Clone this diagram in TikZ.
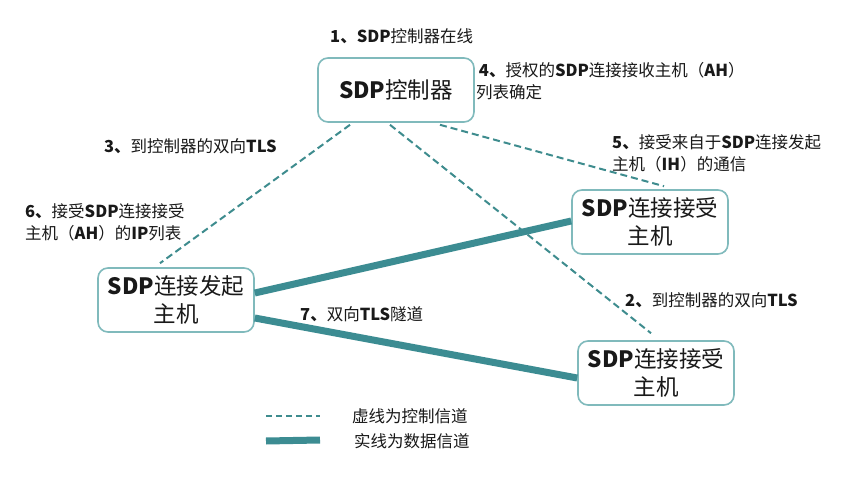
\documentclass[tikz,border=0pt]{standalone}
\usepackage{fontspec}
\setmainfont{Noto Sans CJK SC}
\usetikzlibrary{calc}
\definecolor{boxc}{RGB}{128,186,188}
\definecolor{linec}{RGB}{60,140,146}
\definecolor{dashc}{RGB}{62,140,142}
\definecolor{txt}{RGB}{25,25,25}
\tikzset{
  hostbox/.style={draw=boxc, line width=1.6pt, rounded corners=10pt, fill=white,
    minimum width=156pt, minimum height=64pt, align=center, font=\fontsize{22.5}{28}\selectfont, text=txt, inner sep=2pt},
  lbl/.style={font=\fontsize{16.5}{22}\selectfont, text=txt, align=left, inner sep=0pt},
  ctl/.style={draw=dashc, line width=2pt, dash pattern=on 7pt off 4pt},
  dat/.style={draw=linec, line width=7pt},
}
\begin{document}
\begin{tikzpicture}[x=1pt,y=-1pt]
\useasboundingbox[fill=white] (0,0) rectangle (868,489);
% boxes
\node[hostbox] (ctrl) at (396,90) {\textbf{SDP}控制器};
\node[hostbox] (ah1) at (650,222) {\textbf{SDP}连接接受\\主机};
\node[hostbox] (ah2) at (656,373) {\textbf{SDP}连接接受\\主机};
\node[hostbox] (ih) at (176,300) {\textbf{SDP}连接发起\\主机};
% control channels
\draw[ctl] ([xshift=-46pt,yshift=-2pt]ctrl.south) -- ([xshift=-16pt,yshift=4pt]ih.north);
\draw[ctl] ([xshift=-6pt,yshift=-2pt]ctrl.south) -- ([xshift=-5pt,yshift=7pt]ah2.north);
\draw[ctl] ([xshift=44pt,yshift=-2pt]ctrl.south) -- ([xshift=14pt,yshift=3pt]ah1.north);
% data channels
\draw[dat] ([yshift=7pt]ih.east) -- ([yshift=1pt]ah1.west);
\draw[dat] ([yshift=-18pt]ih.east) -- ([yshift=-5pt]ah2.west);
% labels
\node[lbl, anchor=west] (l1) at (330,36) {\textbf{1、SDP}控制器在线};
\node[lbl, anchor=north west] (l4) at (476,62) {\,\textbf{4、}授权的\textbf{SDP}连接接收主机（\textbf{AH}）\\列表确定};
\node[lbl, anchor=west] (l3) at (104,146) {\textbf{3、}到控制器的双向\textbf{TLS}};
\node[lbl, anchor=north west] (l5) at (612,134) {\textbf{5、}接受来自于\textbf{SDP}连接发起\\主机（\textbf{IH}）的通信};
\node[lbl, anchor=north west] (l6) at (25,203) {\textbf{6、}接受\textbf{SDP}连接接受\\主机（\textbf{AH}）的\textbf{IP}列表};
\node[lbl, anchor=west] (l7) at (300,314) {\textbf{7、}双向\textbf{TLS}隧道};
\node[lbl, anchor=west] (l2) at (625,300) {\textbf{2、}到控制器的双向\textbf{TLS}};
% legend
\coordinate (la1) at (266,416);
\coordinate (la2) at (320,416);
\coordinate (lb1) at (266,441);
\coordinate (lb2) at (320,440);
\draw[ctl, line width=1.5pt, dash pattern=on 6pt off 4pt] (la1) -- (la2);
\draw[dat] (lb1) -- (lb2);
\node[lbl, anchor=west] (lg1) at (352,416) {虚线为控制信道};
\node[lbl, anchor=west] (lg2) at (354,441) {实线为数据信道};
\end{tikzpicture}
\end{document}
